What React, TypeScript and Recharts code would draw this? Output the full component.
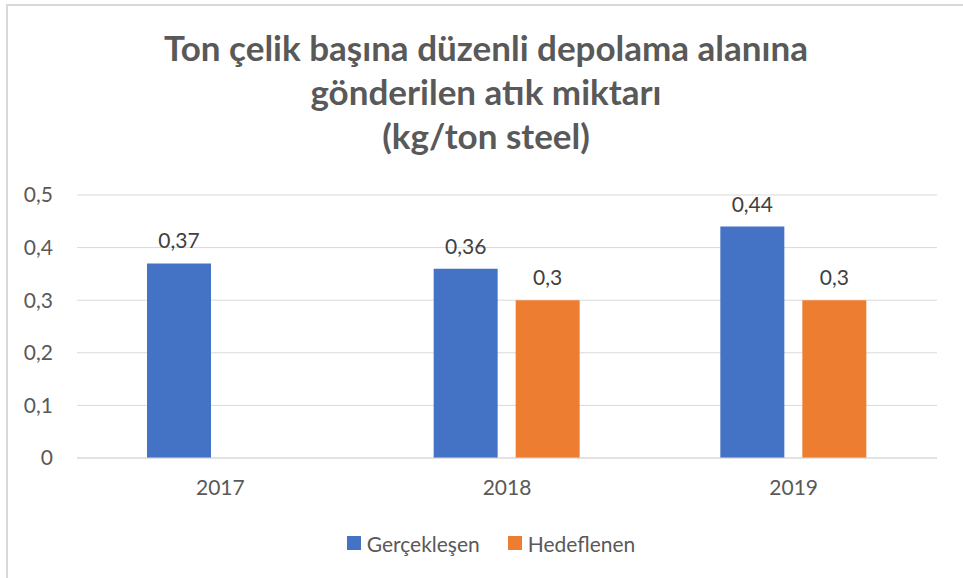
import React from 'react';
import { BarChart, Bar, XAxis, YAxis, CartesianGrid, LabelList, Legend } from 'recharts';

const categories = ['2017', '2018', '2019'];
const gerceklesen = [0.37, 0.36, 0.44];
const hedeflenen: (number | null)[] = [null, 0.3, 0.3];
const yTicks = [0, 0.1, 0.2, 0.3, 0.4, 0.5];
const seriesNames = ['Gerçekleşen', 'Hedeflenen'];
const seriesColors = ['#4472C4', '#ED7D31'];
const titleLines = [
  'Ton çelik başına düzenli depolama alanına',
  'gönderilen atık miktarı',
  '(kg/ton steel)',
];

const data = categories.map((c, i) => ({ year: c, g: gerceklesen[i], h: hedeflenen[i] }));

const fmt = (v: any) => (v == null ? '' : String(v).replace('.', ','));

const FONT = 'Lato, "Open Sans", sans-serif';

const renderLegend = (props: any) => {
  const { payload } = props;
  return (
    <div
      style={{
        display: 'flex',
        justifyContent: 'center',
        alignItems: 'center',
        height: 30,
        width: 963,
        paddingLeft: 19,
        boxSizing: 'border-box',
        fontFamily: FONT,
        fontSize: 21,
        color: '#595959',
      }}
    >
      {payload.map((p: any, i: number) => (
        <div key={i} style={{ display: 'flex', alignItems: 'center', marginRight: i === 0 ? 28 : 0 }}>
          <div style={{ width: 14, height: 14, background: p.color, marginRight: 6 }} />
          <span>{p.value}</span>
        </div>
      ))}
    </div>
  );
};

export default function App() {
  return (
    <div
      style={{
        position: 'absolute',
        left: 0,
        top: 0,
        width: 963,
        height: 578,
        overflow: 'hidden',
        background: '#fff',
      }}
    >
      <div
        style={{
          position: 'absolute',
          left: 6,
          top: 4,
          width: 1000,
          height: 1000,
          borderTop: '2px solid #d9d9d9',
          borderLeft: '2px solid #d9d9d9',
        }}
      />
      <div
        style={{
          position: 'absolute',
          left: 0,
          top: 25,
          width: 972,
          textAlign: 'center',
          fontFamily: FONT,
          fontWeight: 700,
          fontSize: 35,
          lineHeight: '44px',
          color: '#595959',
        }}
      >
        {titleLines.map((t, i) => (
          <div key={i}>{t}</div>
        ))}
      </div>
      <div style={{ position: 'absolute', left: 0, top: 0 }}>
        <BarChart
          width={963}
          height={578}
          data={data}
          margin={{ top: 195, right: 26, left: 0, bottom: 20 }}
          barGap={18}
          barSize={64}
        >
          <CartesianGrid vertical={false} stroke="#d9d9d9" strokeWidth={1} />
          <XAxis
            dataKey="year"
            height={70}
            tickLine={false}
            axisLine={{ stroke: '#d9d9d9', strokeWidth: 1 }}
            tickSize={0}
            tickMargin={22}
            tick={{ fill: '#595959', fontSize: 21, fontFamily: FONT }}
          />
          <YAxis
            width={77}
            domain={[0, 0.5]}
            ticks={yTicks}
            interval={0}
            tickFormatter={fmt}
            axisLine={false}
            tickLine={false}
            tickSize={0}
            tickMargin={24}
            tick={{ fill: '#595959', fontSize: 21, fontFamily: FONT }}
          />
          <Legend
            verticalAlign="bottom"
            align="center"
            height={30}
            content={renderLegend}
            wrapperStyle={{ left: 0, width: 963 }}
          />
          <Bar dataKey="g" name={seriesNames[0]} fill={seriesColors[0]} isAnimationActive={false}>
            <LabelList
              dataKey="g"
              position="top"
              offset={15}
              formatter={fmt}
              style={{ fill: '#404040', fontSize: 21, fontFamily: FONT }}
            />
          </Bar>
          <Bar dataKey="h" name={seriesNames[1]} fill={seriesColors[1]} isAnimationActive={false}>
            <LabelList
              dataKey="h"
              position="top"
              offset={15}
              formatter={fmt}
              style={{ fill: '#404040', fontSize: 21, fontFamily: FONT }}
            />
          </Bar>
        </BarChart>
      </div>
    </div>
  );
}
